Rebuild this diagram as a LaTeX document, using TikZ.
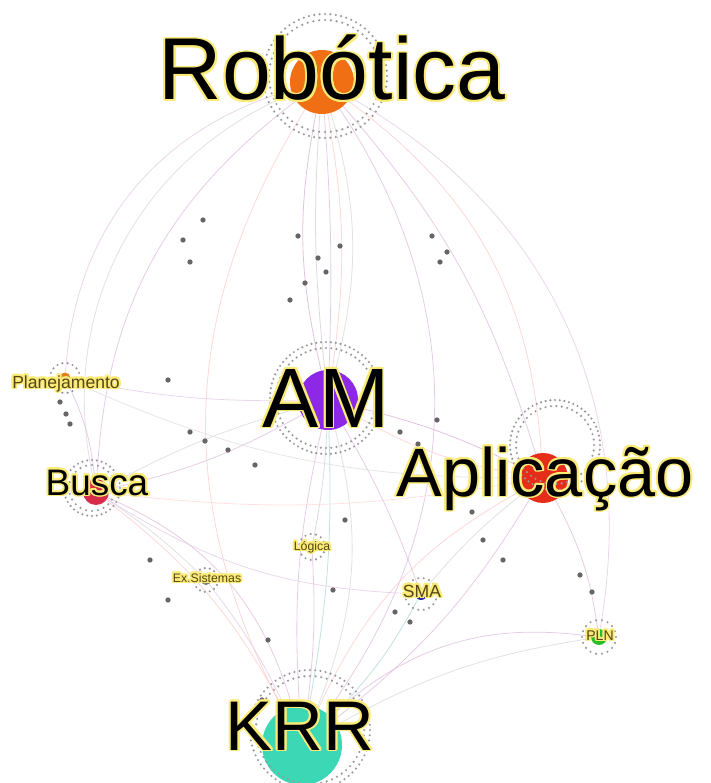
\documentclass[tikz,border=0pt]{standalone}
\usepackage{fontspec}
\setmainfont{Liberation Sans}
\usepackage[copies]{contour}
\usetikzlibrary{positioning}
\usetikzlibrary{backgrounds}
\contourlength{1.1pt}
\contournumber{16}
\definecolor{robcol}{RGB}{240,110,20}
\definecolor{amcol}{RGB}{140,40,230}
\definecolor{aplcol}{RGB}{230,45,25}
\definecolor{buscol}{RGB}{215,45,75}
\definecolor{krrcol}{RGB}{60,215,180}
\definecolor{smacol}{RGB}{40,40,190}
\definecolor{plncol}{RGB}{40,190,40}
\definecolor{glow}{RGB}{250,235,120}
\definecolor{olive}{RGB}{85,70,20}
\tikzset{hub/.style={circle,inner sep=0pt}}
\tikzset{sat/.style={fill=black!40}}
\tikzset{edge/.style={line width=0.45pt,opacity=0.8}}
\tikzset{dot/.style={circle,fill=black!60,inner sep=0pt,minimum size=3pt}}
\tikzset{lbl/.style={inner sep=0pt,anchor=base,text=black,font=\fontsize{#1}{#1}\selectfont}}
\newcommand{\satring}[3]{%
  \foreach \a in {0,#3,...,359}
    \fill[sat] ([shift={(\a:#2)}]#1) circle (1.2);}

\begin{document}
\begin{tikzpicture}[x=0.02cm,y=-0.02cm]
    \useasboundingbox (0,0) rectangle (710,783);
    % hubs
    \node[hub,fill=robcol,minimum size=1.28cm] (rob) at (322,82) {};
    \node[hub,fill=amcol,minimum size=1.2cm] (am) at (328,400) {};
    \node[hub,fill=aplcol,minimum size=1cm] (apl) at (543,478) {};
    \node[hub,fill=buscol,minimum size=0.52cm] (bus) at (96,492) {};
    \node[hub,fill=krrcol,minimum size=1.6cm] (krr) at (302,745) {};
    \node[hub,fill=orange!60!brown,minimum size=0.22cm] (pla) at (65,378) {};
    \node[hub,fill=black!55,minimum size=0.2cm] (sis) at (206,580) {};
    \node[hub,fill=teal!50!gray,minimum size=0.22cm] (log) at (312,547) {};
    \node[hub,fill=smacol,minimum size=0.24cm] (sma) at (421,594) {};
    \node[hub,fill=plncol,minimum size=0.32cm] (pln) at (599,637) {};
    % ring centres
    \coordinate (robc) at (325,76);
    \coordinate (amc) at (326,398);
    \coordinate (aplc) at (555,445);
    \coordinate (busc) at (92,488);
    \coordinate (krrc) at (310,730);
    % connectors
    \begin{scope}[on background layer]
    \foreach \s/\t/\b/\c in {rob/am/-12/violet!30, rob/am/-5/gray!35, rob/am/3/violet!25,
        rob/am/9/red!20, rob/am/15/gray!30, rob/krr/35/violet!25, rob/krr/-30/red!20,
        rob/bus/-25/violet!25, rob/bus/-40/gray!30, rob/pla/-35/violet!20,
        rob/apl/25/red!20, rob/apl/12/violet!25, rob/pln/35/violet!20,
        am/apl/6/violet!30, am/apl/-10/red!20, am/bus/8/violet!25, am/bus/-6/gray!30,
        am/krr/6/teal!30, am/krr/-8/violet!25, am/krr/18/gray!30,
        am/sma/5/violet!25, am/log/4/gray!35, am/pla/6/violet!20,
        bus/krr/25/violet!25, bus/krr/12/red!20, bus/sis/5/gray!30, sis/krr/6/violet!20,
        apl/krr/10/violet!25, apl/krr/-18/red!20, apl/pln/10/violet!25, apl/sma/-6/gray!30,
        krr/pln/25/violet!25, krr/pln/10/gray!30, pla/bus/10/violet!25, pla/apl/-12/gray!25,
        sma/krr/8/teal!30, log/krr/5/violet!25, bus/apl/-8/red!15, bus/sma/-15/violet!20}
        \draw[edge,draw=\c] (\s) to[bend left=\b] (\t);
    \end{scope}
    % rings of satellites
    \satring{robc}{62}{5}
    \satring{robc}{56}{6}
    \satring{amc}{56}{5}
    \satring{amc}{50}{6}
    \satring{aplc}{45}{6}
    \satring{aplc}{39}{8}
    \satring{busc}{28}{10}
    \satring{busc}{23}{15}
    \satring{krrc}{60}{5}
    \satring{krrc}{54}{6}
    \satring{pla}{15}{20}
    \satring{sis}{12}{24}
    \satring{log}{13}{24}
    \satring{sma}{16}{20}
    \satring{pln}{17}{20}
    % nodes between hubs
    \foreach \p [count=\i] in {(183,240),(190,262),(203,220),(298,236),(318,258),(326,272),
        (340,246),(305,283),(432,236),(440,262),(447,252),(60,402),(66,414),(70,424),
        (168,380),(190,432),(205,441),(228,450),(400,432),(418,444),(437,420),(472,512),
        (483,540),(503,560),(580,575),(592,592),(395,612),(410,622),(268,640),(168,600),
        (333,590),(345,520),(255,465),(262,700),(290,300),(150,560)}
        \node[dot] (d\i) at \p {};
    % labels
    \node[lbl=50] (robl) at (332,100) {\contour{glow}{Robótica}};
    \node[lbl=48] (aml) at (326,427) {\contour{glow}{AM}};
    \node[lbl=39] (apll) at (545,496) {\contour{glow}{Aplicação}};
    \node[lbl=21] (busl) at (97,495) {\contour{glow}{Busca}};
    \node[lbl=40] (krrl) at (300,750) {\contour{glow}{KRR}};
    \node[lbl=10,text=olive] (plal) at (66,388) {\contour{glow}{Planejamento}};
    \node[lbl=7,text=olive] (sisl) at (207,582) {\contour{glow}{Ex.Sistemas}};
    \node[lbl=7,text=olive] (logl) at (312,550) {\contour{glow}{Lógica}};
    \node[lbl=10,text=olive] (smal) at (422,597) {\contour{glow}{SMA}};
    \node[lbl=8,text=olive] (plnl) at (600,640) {\contour{glow}{PLN}};
\end{tikzpicture}
\end{document}
